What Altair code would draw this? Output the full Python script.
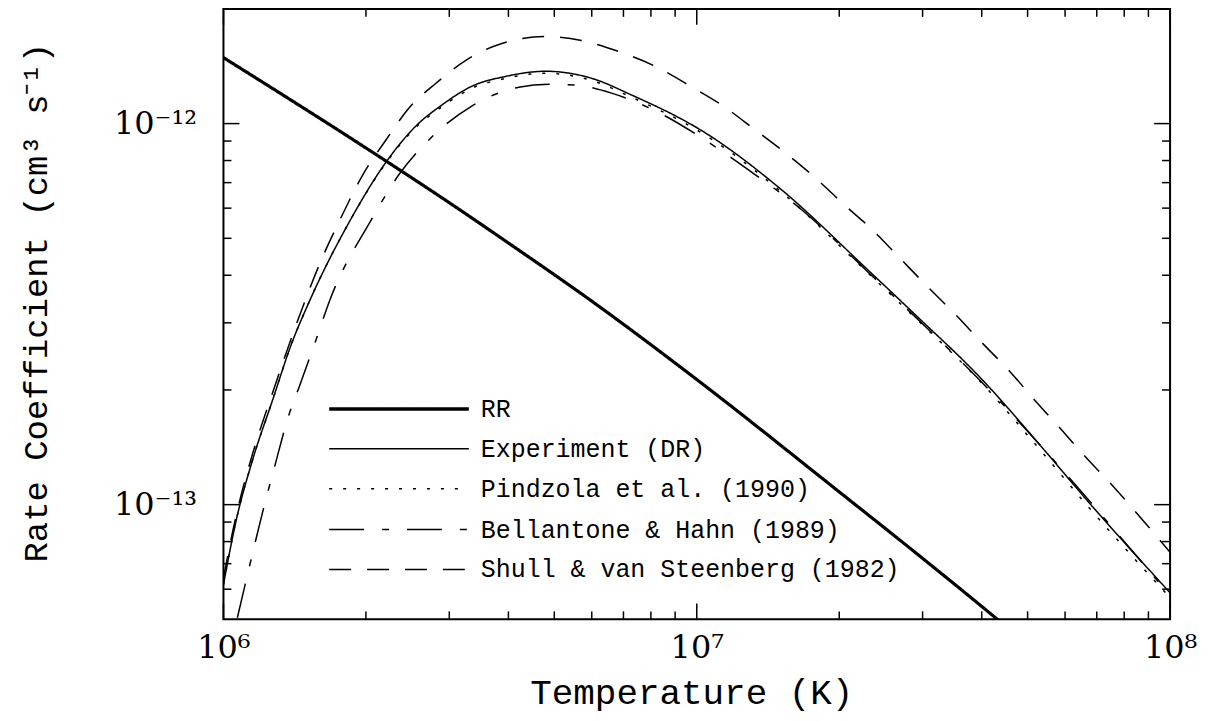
import altair as alt
import pandas as pd

# ---------------- data ----------------
SERIES = ["RR", "Experiment (DR)", "Pindzola et al. (1990)",
          "Bellantone & Hahn (1989)", "Shull & van Steenberg (1982)"]

RR_T = [1.0e6, 2.0e6, 3.0e6, 4.0e6, 6.0e6, 1.0e7, 2.0e7, 3.0e7, 4.3e7, 6.0e7]
RR_V = [1.49e-12, 8.63e-13, 6.20e-13, 4.86e-13, 3.42e-13, 2.13e-13, 1.08e-13,
        7.23e-14, 5.02e-14, 3.54e-14]

EXP_T = [1.0e6, 1.064e6, 1.151e6, 1.268e6, 1.391e6, 1.518e6, 1.843e6, 2.216e6,
         2.551e6, 2.894e6, 3.347e6, 3.948e6, 4.795e6, 5.994e6, 7.278e6, 1.042e7,
         1.507e7, 2.299e7, 2.888e7, 3.978e7, 5.32e7, 6.68e7, 1.0e8]
EXP_V = [6.17e-14, 9.10e-14, 1.305e-13, 1.87e-13, 2.634e-13, 3.41e-13, 5.51e-13,
         7.99e-13, 9.86e-13, 1.119e-12, 1.253e-12, 1.330e-12, 1.372e-12,
         1.315e-12, 1.189e-12, 9.46e-13, 6.72e-13, 4.13e-13, 3.16e-13, 2.15e-13,
         1.43e-13, 1.026e-13, 5.87e-14]

PIN_T = EXP_T
PIN_V = [6.17e-14, 9.10e-14, 1.305e-13, 1.87e-13, 2.634e-13, 3.41e-13, 5.51e-13,
         7.95e-13, 9.78e-13, 1.107e-12, 1.238e-12, 1.314e-12, 1.356e-12,
         1.298e-12, 1.173e-12, 9.33e-13, 6.62e-13, 4.06e-13, 3.10e-13, 2.10e-13,
         1.39e-13, 9.95e-14, 5.70e-14]

BH_T = [1.070e6, 1.134e6, 1.208e6, 1.281e6, 1.377e6, 1.446e6, 1.570e6, 1.673e6,
        2.051e6, 2.349e6, 2.745e6, 3.347e6, 4.206e6, 4.864e6, 5.544e6, 6.604e6,
        8.58e6, 1.007e7, 1.284e7, 1.661e7, 2.299e7, 3.978e7, 1.0e8]
BH_V = [5.05e-14, 6.86e-14, 9.49e-14, 1.251e-13, 1.730e-13, 2.04e-13, 2.714e-13,
        3.41e-13, 5.58e-13, 7.35e-13, 9.18e-13, 1.112e-12, 1.246e-12, 1.269e-12,
        1.262e-12, 1.202e-12, 1.047e-12, 9.30e-13, 7.57e-13, 5.96e-13, 4.08e-13,
        2.11e-13, 5.77e-14]

SVS_T = [1.0e6, 1.064e6, 1.151e6, 1.268e6, 1.432e6, 1.60e6, 1.773e6, 1.982e6,
         2.206e6, 2.466e6, 2.812e6, 3.252e6, 3.873e6, 4.795e6, 5.709e6, 6.83e6,
         8.176e6, 9.69e6, 1.137e7, 1.328e7, 1.536e7, 1.777e7, 2.056e7, 2.355e7,
         2.698e7, 3.075e7, 3.524e7, 4.017e7, 4.58e7, 5.194e7, 5.922e7, 6.683e7,
         7.62e7, 8.647e7, 1.0e8]
SVS_V = [6.43e-14, 9.37e-14, 1.354e-13, 1.954e-13, 3.02e-13, 4.31e-13, 5.68e-13,
         7.44e-13, 9.07e-13, 1.099e-12, 1.276e-12, 1.466e-12, 1.623e-12,
         1.693e-12, 1.652e-12, 1.547e-12, 1.413e-12, 1.254e-12, 1.112e-12,
         9.63e-13, 8.39e-13, 7.22e-13, 6.10e-13, 5.25e-13, 4.41e-13, 3.73e-13,
         3.15e-13, 2.65e-13, 2.24e-13, 1.87e-13, 1.562e-13, 1.320e-13, 1.109e-13,
         9.27e-14, 7.5e-14]

X_MAJOR = [1e6, 1e7, 1e8]
X_MINOR = [2e6, 3e6, 4e6, 5e6, 6e6, 7e6, 8e6, 9e6,
           2e7, 3e7, 4e7, 5e7, 6e7, 7e7, 8e7, 9e7]
Y_MAJOR = [1e-13, 1e-12]
Y_MINOR = [6e-14, 7e-14, 8e-14, 9e-14, 2e-13, 3e-13, 4e-13, 5e-13, 6e-13,
           7e-13, 8e-13, 9e-13]

# ---------------- styles ----------------
DASHES = [[1, 0], [1, 0], [3, 11], [35, 18, 7, 18], [22, 16]]
LEG_Y = [401, 441, 481, 522, 562]

rows = []
for name, ts, vs in [(SERIES[0], RR_T, RR_V), (SERIES[1], EXP_T, EXP_V),
                     (SERIES[2], PIN_T, PIN_V), (SERIES[3], BH_T, BH_V),
                     (SERIES[4], SVS_T, SVS_V)]:
    for t, v in zip(ts, vs):
        rows.append({"series": name, "T": t, "v": v})
df = pd.DataFrame(rows)
leg = pd.DataFrame({"series": SERIES, "py": LEG_Y})

W, H = 949, 612
xs = alt.Scale(type="log", domain=[1e6, 1e8], nice=False)
ys = alt.Scale(type="log", domain=[5e-14, 2e-12], nice=False)

X_AXIS = alt.Axis(values=X_MAJOR,
                  labelExpr="datum.value < 3e6 ? '10⁶' : (datum.value < 3e7 ? '10⁷' : '10⁸')",
                  ticks=False, domain=False, grid=False, labelFlush=False,
                  labelFont="DejaVu Serif", labelFontSize=32, labelPadding=13,
                  labelColor="black",
                  title="Temperature (K)", titleFont="Liberation Mono",
                  titleFontSize=36, titleFontWeight="normal", titleColor="black",
                  titleX=469, titleY=73, titleBaseline="middle", titleAlign="center")
Y_AXIS = alt.Axis(values=Y_MAJOR,
                  labelExpr="datum.value < 3e-13 ? '10⁻¹³' : '10⁻¹²'",
                  ticks=False, domain=False, grid=False,
                  labelFont="DejaVu Serif", labelFontSize=32, labelPadding=27,
                  labelColor="black",
                  title="Rate Coefficient (cm³ s⁻¹)", titleFont="Liberation Mono",
                  titleFontSize=34, titleFontWeight="normal", titleColor="black",
                  titleX=-187, titleY=294, titleAngle=270,
                  titleBaseline="middle", titleAlign="center")

dash_enc = alt.StrokeDash("series:N", scale=alt.Scale(domain=SERIES, range=DASHES),
                          legend=None)
X = alt.X("T:Q", scale=xs, axis=X_AXIS)
Y = alt.Y("v:Q", scale=ys, axis=Y_AXIS)

base = alt.Chart(df)
rr_line = base.transform_filter(alt.datum.series == "RR").mark_line(
    clip=True, color="black", strokeWidth=3.2, interpolate="monotone").encode(
    x=X, y=Y, strokeDash=dash_enc)
dr_lines = base.transform_filter(alt.datum.series != "RR").mark_line(
    clip=True, color="black", strokeWidth=1.5, interpolate="monotone").encode(
    x=X, y=Y, strokeDash=dash_enc)

def xticks(vals, y0, y1):
    return alt.Chart(pd.DataFrame({"T": vals})).mark_rule(
        color="black", strokeWidth=1.5).encode(x=X, y=alt.value(y0), y2=alt.value(y1))

def yticks(vals, x0, x1):
    return alt.Chart(pd.DataFrame({"v": vals})).mark_rule(
        color="black", strokeWidth=1.5).encode(y=Y, x=alt.value(x0), x2=alt.value(x1))

ticks = [
    xticks(X_MAJOR, H, H - 16), xticks(X_MINOR, H, H - 8),
    xticks(X_MAJOR, 0, 16), xticks(X_MINOR, 0, 8),
    yticks(Y_MAJOR, 0, 16), yticks(Y_MINOR, 0, 8),
    yticks(Y_MAJOR, W, W - 16), yticks(Y_MINOR, W, W - 8),
]

LY = alt.Y("py:Q", scale=None, axis=None)
legbase = alt.Chart(leg)
leg_rr = legbase.transform_filter(alt.datum.series == "RR").mark_rule(
    color="black", strokeWidth=3.5).encode(x=alt.value(106), x2=alt.value(246),
                                           y=LY, strokeDash=dash_enc)
leg_dr = legbase.transform_filter(alt.datum.series != "RR").mark_rule(
    color="black", strokeWidth=1.5).encode(x=alt.value(106), x2=alt.value(246),
                                           y=LY, strokeDash=dash_enc)
leg_txt = legbase.mark_text(align="left", baseline="middle", font="Liberation Mono",
                            fontSize=25, color="black").encode(
    x=alt.value(258), y=LY, text="series:N")

chart = alt.layer(dr_lines, rr_line, *ticks, leg_rr, leg_dr, leg_txt).properties(
    width=W, height=H,
    padding={"left": 216, "top": 0, "right": 30, "bottom": 100},
    autosize=alt.AutoSizeParams(type="none"),
    background="white",
).configure_view(stroke="black", strokeWidth=2)

chart.save("out.html", embed_options={"renderer": "svg", "actions": False})
